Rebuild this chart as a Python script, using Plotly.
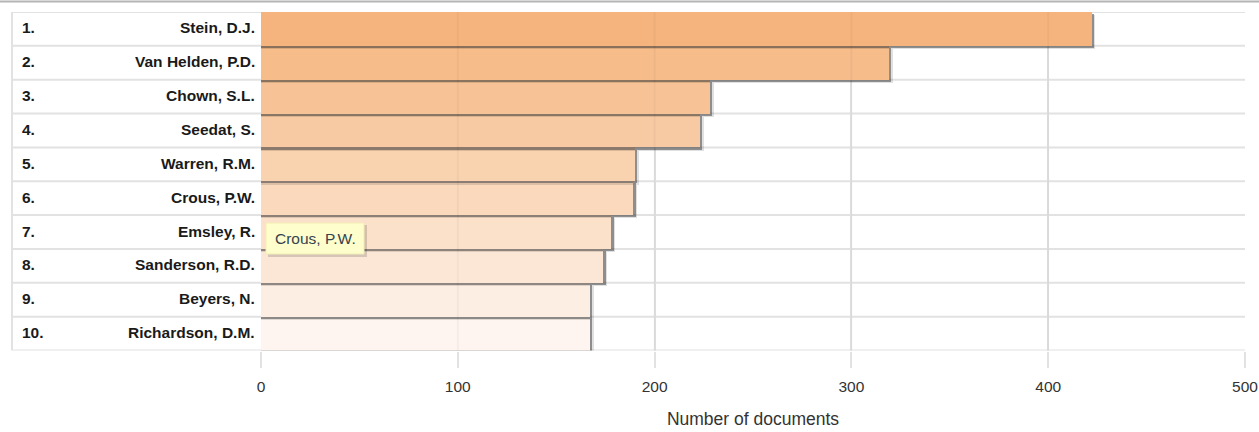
import plotly.graph_objects as go

# ---- data ----
ranks = ["1.", "2.", "3.", "4.", "5.", "6.", "7.", "8.", "9.", "10."]
authors = ["Stein, D.J.", "Van Helden, P.D.", "Chown, S.L.", "Seedat, S.", "Warren, R.M.",
           "Crous, P.W.", "Emsley, R.", "Sanderson, R.D.", "Beyers, N.", "Richardson, D.M."]
documents = [422, 319, 228, 223, 190, 189, 178, 174, 167, 167]
x_ticks = [0, 100, 200, 300, 400, 500]
x_title = "Number of documents"
tooltip_text = "Crous, P.W."

# ---- style ----
W, H = 1259, 432
bar_colors = ["#f5b47d", "#f6bc8a", "#f7c396", "#f8caa3", "#f9d2b0",
              "#fad9bd", "#fbe0ca", "#fce7d7", "#fdeee4", "#fef5f0"]
grid_col = "#e2e2e2"
FONT = "Liberation Sans, Arial, sans-serif"

def px_x(p):
    return p / W

def px_y(p):
    return 1 - p / H

table_left = 12
plot_left, plot_right = 261, 1245
plot_top, plot_bottom = 12, 350.5

n = len(authors)
idx = list(range(n))

fig = go.Figure()

# draw from the bottom row up so each bar's shadow falls on the bar below it
for i in reversed(idx):
    fig.add_trace(go.Bar(
        x=[documents[i] + 2.0], y=[i + 0.1], orientation="h",
        width=1, marker=dict(color="rgba(0,0,0,0.12)", line=dict(width=0)),
        hoverinfo="skip", showlegend=False))
    fig.add_trace(go.Bar(
        x=[documents[i] + 1.3], y=[i + 0.065], orientation="h",
        width=1, marker=dict(color="rgba(60,60,60,0.5)", line=dict(width=0)),
        hoverinfo="skip", showlegend=False))
    fig.add_trace(go.Bar(
        x=[documents[i]], y=[i], orientation="h", width=1,
        marker=dict(color=bar_colors[i], line=dict(width=0)),
        hoverinfo="skip", showlegend=False))

shapes = []
# row lines
for k in range(n + 1):
    shapes.append(dict(type="line", xref="paper", yref="y",
                       x0=px_x(table_left), x1=px_x(plot_right),
                       y0=k - 0.5, y1=k - 0.5,
                       line=dict(color=grid_col, width=2), layer="below"))
# faint gridlines showing through bars
for t in x_ticks[1:-1]:
    shapes.append(dict(type="line", xref="x", yref="y", x0=t, x1=t,
                       y0=-0.5, y1=n - 0.5,
                       line=dict(color="rgba(0,0,0,0.035)", width=2), layer="above"))
# left table border
shapes.append(dict(type="line", xref="paper", yref="y",
                   x0=px_x(table_left), x1=px_x(table_left),
                   y0=-0.5, y1=n - 0.5, line=dict(color=grid_col, width=2), layer="below"))
# top page line
shapes.append(dict(type="line", xref="paper", yref="paper",
                   x0=0, x1=1, y0=px_y(1.5), y1=px_y(1.5),
                   line=dict(color="#b4b4b4", width=2), layer="above"))

# tooltip box (shadow + yellow box)
tip = dict(x0=266, x1=364, y0=223, y1=254)
shapes.append(dict(type="rect", xref="paper", yref="paper",
                   x0=px_x(tip["x0"] + 2), x1=px_x(tip["x1"] + 3),
                   y0=px_y(tip["y1"] + 3), y1=px_y(tip["y0"] + 2),
                   fillcolor="rgba(0,0,0,0.15)", line=dict(width=0), layer="above"))
shapes.append(dict(type="rect", xref="paper", yref="paper",
                   x0=px_x(tip["x0"]), x1=px_x(tip["x1"]),
                   y0=px_y(tip["y1"]), y1=px_y(tip["y0"]),
                   fillcolor="#fefdcc", line=dict(color="#f1eeb6", width=1), layer="above"))

annotations = []
for i in idx:
    annotations.append(dict(xref="paper", yref="y", x=px_x(20), y=i, yshift=1,
                            text=ranks[i], showarrow=False, xanchor="left",
                            font=dict(family=FONT, size=15.5, color="#1a1a1a", weight="bold")))
    annotations.append(dict(xref="paper", yref="y", x=px_x(257), y=i, yshift=1,
                            text=authors[i], showarrow=False, xanchor="right",
                            font=dict(family=FONT, size=15.5, color="#1a1a1a", weight="bold")))

annotations.append(dict(xref="paper", yref="paper",
                        x=px_x((tip["x0"] + tip["x1"]) / 2), y=px_y((tip["y0"] + tip["y1"]) / 2),
                        text=tooltip_text, showarrow=False, xanchor="center", yanchor="middle",
                        font=dict(family=FONT, size=15.5, color="#34444f")))

fig.update_layout(
    width=W, height=H,
    margin=dict(l=0, r=0, t=0, b=0),
    paper_bgcolor="white", plot_bgcolor="white",
    barmode="overlay", bargap=0,
    hovermode=False,
    shapes=shapes, annotations=annotations,
    font=dict(family=FONT),
    xaxis=dict(
        domain=[px_x(plot_left), px_x(plot_right)],
        range=[0, 500], tickvals=x_ticks, ticktext=[str(t) for t in x_ticks],
        showgrid=True, gridcolor=grid_col, gridwidth=2,
        zeroline=False, showline=False,
        ticks="outside", ticklen=16, tickcolor=grid_col, tickwidth=2,
        ticklabelstandoff=6,
        tickfont=dict(family=FONT, size=15.5, color="#333333"),
        title=dict(text=x_title, font=dict(family=FONT, size=17.5, color="#333333"), standoff=18),
        automargin=False, fixedrange=True),
    yaxis=dict(
        domain=[px_y(plot_bottom), px_y(plot_top)],
        range=[n - 0.5, -0.5], showticklabels=False, showgrid=False,
        zeroline=False, showline=False, automargin=False, fixedrange=True),
)

fig.write_html("out.html")
